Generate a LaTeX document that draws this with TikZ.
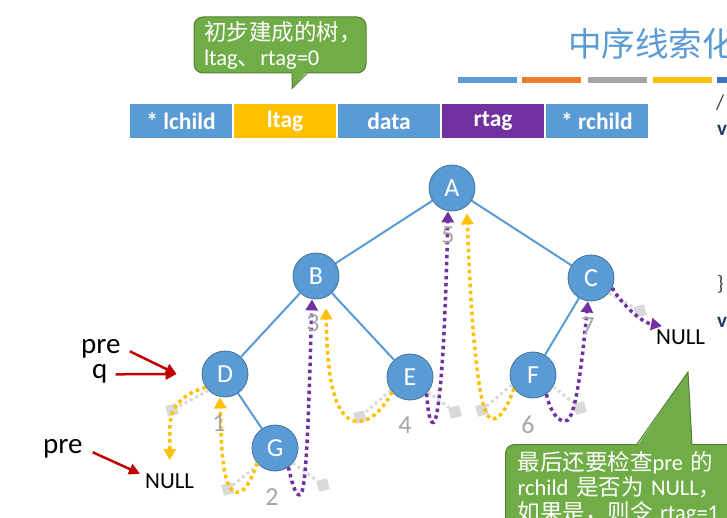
\documentclass[tikz,border=0pt]{standalone}
\usepackage{fontspec}
\setmainfont{Carlito}
\newfontfamily\cjk{Noto Sans CJK SC}
\usetikzlibrary{arrows.meta,positioning}
\definecolor{nodeblue}{HTML}{5B9BD5}
\definecolor{nodeedge}{HTML}{41719C}
\definecolor{tagyellow}{HTML}{FFC000}
\definecolor{tagpurple}{HTML}{7030A0}
\definecolor{barorange}{HTML}{ED7D31}
\definecolor{bargray}{HTML}{A5A5A5}
\definecolor{bardeep}{HTML}{4472C4}
\definecolor{ghostgray}{HTML}{D9D9D9}
\definecolor{numgray}{HTML}{A6A6A6}
\definecolor{bubblegreen}{HTML}{70AD47}
\definecolor{bubbleedge}{HTML}{507E32}
\definecolor{pointred}{HTML}{C00000}
\definecolor{codeblue}{HTML}{1F3864}
\definecolor{codegray}{HTML}{404040}
\tikzset{
  treenode/.style={circle, fill=nodeblue, draw=nodeedge, line width=0.8pt, minimum size=46pt, inner sep=0pt, text=white, font=\fontsize{26}{26}\selectfont},
  treeedge/.style={draw=nodeblue, line width=2pt},
  cell/.style={minimum width=103pt, minimum height=35pt, draw=white, line width=1pt, inner sep=0pt, text=white, font=\bfseries\fontsize{23.5}{23.5}\selectfont},
  lthread/.style={draw=tagyellow, line width=3.5pt, dash pattern=on 3.5pt off 3.5pt, -{Triangle[length=11pt,width=12pt]}},
  rthread/.style={draw=tagpurple, line width=3.5pt, dash pattern=on 3.5pt off 3.5pt, -{Triangle[length=11pt,width=12pt]}},
  ghost/.style={draw=ghostgray, line width=3pt, dash pattern=on 3pt off 3pt},
  ghostbox/.style={fill=ghostgray, minimum size=11pt, inner sep=0pt, rotate=15},
  numlabel/.style={text=numgray, inner sep=0pt, font=\fontsize{26}{26}\selectfont},
  pointer/.style={draw=pointred, line width=2.5pt, -{Triangle[length=11pt,width=11pt]}},
  bubble/.style={fill=bubblegreen, draw=bubbleedge, line width=1pt, rounded corners=9pt, text=white, align=left, font=\fontsize{22.5}{25}\selectfont}
}
\begin{document}
\begin{tikzpicture}[x=1pt,y=-1pt]
\useasboundingbox (0,0) rectangle (727,518);
\clip (0,0) rectangle (727,518);
\fill[white] (0,0) rectangle (727,518);

\node[anchor=west, inner sep=0pt, text=nodeblue, font=\cjk\fontsize{33.5}{33.5}\selectfont] (title) at (568,44) {中序线索化};
\foreach \x/\c in {458/nodeblue,522/barorange,588/bargray,653/tagyellow,717/bardeep}
  \fill[\c] (\x,77) rectangle ++(59,6);
\node[anchor=base west, inner sep=0pt, text=codegray, font=\fontsize{21}{21}\selectfont] (slash) at (716,110) {/};
\node[anchor=base west, inner sep=0pt, text=codeblue, font=\bfseries\fontsize{21}{21}\selectfont] (vfirst) at (717,136) {v};
\node[anchor=base west, inner sep=0pt, text=codegray, font=\fontsize{21}{21}\selectfont] (brace) at (717,290) {\}};
\node[anchor=base west, inner sep=0pt, text=codeblue, font=\bfseries\fontsize{21}{21}\selectfont] (vsecond) at (717,327) {v};

\node[bubble, text width=152pt, inner xsep=10pt, minimum height=56pt] (tipa) at (280,45) {{\cjk 初步建成的树，}\\ltag{\cjk 、}rtag=0};
\fill[bubblegreen] ([shift={(12pt,2pt)}]tipa.south) -- ([shift={(12pt,-15pt)}]tipa.south) -- ([shift={(27pt,2pt)}]tipa.south) -- cycle;
\draw[bubbleedge, line width=1pt] ([xshift=12pt]tipa.south) -- ([shift={(12pt,-15pt)}]tipa.south) -- ([xshift=27pt]tipa.south);

\node[cell, fill=nodeblue] (lchild) at (181,121.5) {* lchild};
\node[cell, fill=tagyellow, right=0pt of lchild] (ltag) {ltag};
\node[cell, fill=nodeblue, right=0pt of ltag] (data) {data};
\node[cell, fill=tagpurple, right=0pt of data] (rtag) {rtag};
\node[cell, fill=nodeblue, right=0pt of rtag] (rchild) {* rchild};

\node[treenode] (A) at (452,188) {A};
\node[treenode] (B) at (316,276) {B};
\node[treenode] (C) at (591,278) {C};
\node[treenode] (D) at (225,374) {D};
\node[treenode] (E) at (410,377) {E};
\node[treenode] (F) at (533,375) {F};
\node[treenode] (G) at (275,448) {G};
\draw[treeedge] (A) -- (B);
\draw[treeedge] (A) -- (C);
\draw[treeedge] (B) -- (D);
\draw[treeedge] (B) -- (E);
\draw[treeedge] (C) -- (F);
\draw[treeedge] (D) -- (G);

\node[anchor=base west, inner sep=0pt, font=\fontsize{23}{23}\selectfont] (nullL) at (145,488) {NULL};
\node[anchor=base west, inner sep=0pt, font=\fontsize{23}{23}\selectfont] (nullR) at (656,344) {NULL};

\node[ghostbox] (g1) at (172,410) {};
\node[ghostbox] (g2) at (228,489) {};
\node[ghostbox] (g3) at (323,485) {};
\node[ghostbox] (g4) at (360,417) {};
\node[ghostbox] (g5) at (455,412) {};
\node[ghostbox] (g6) at (482,410) {};
\node[ghostbox] (g7) at (580,408) {};
\node[ghostbox] (g8) at (640,311) {};
\draw[ghost] (D.225) -- (g1);
\draw[ghost] (G.225) -- (g2);
\draw[ghost] (G.320) -- (g3);
\draw[ghost] (E.215) -- (g4);
\draw[ghost] (E.320) -- (g5);
\draw[ghost] (F.205) -- (g6);
\draw[ghost] (F.330) -- (g7);
\draw[ghost] (C.320) -- (g8);

\draw[lthread] (D.215) .. controls (185,393) and (171,405) .. (170,425) -- ([yshift=13pt]nullL.north);
\draw[lthread] (G.220) .. controls (248,490) and (238,500) .. (229,486) .. controls (221,470) and (221,430) .. ([xshift=-5pt]D.south);
\draw[rthread] (G.305) .. controls (293,488) and (297,498) .. (301,494) .. controls (307,485) and (309,400) .. ([xshift=-4pt]B.south);
\draw[lthread] (E.220) .. controls (380,415) and (362,428) .. (348,418) .. controls (330,405) and (327,360) .. ([shift={(10pt,-9pt)}]B.south);
\draw[rthread] (E.315) .. controls (428,412) and (430,425) .. (434,422) .. controls (442,410) and (446,300) .. ([xshift=-4pt]A.south);
\draw[lthread] (F.215) .. controls (505,415) and (494,425) .. (487,415) .. controls (476,395) and (470,300) .. ([shift={(15pt,-2pt)}]A.south);
\draw[rthread] (F.305) .. controls (550,412) and (560,425) .. (568,420) .. controls (578,410) and (584,340) .. ([xshift=-3pt]C.south);
\draw[rthread] (C.335) .. controls (620,302) and (640,322) .. ([shift={(6pt,3pt)}]nullR.north west);

\node[numlabel] (n1) at (219,423) {1};
\node[numlabel] (n2) at (272,497) {2};
\node[numlabel] (n3) at (313,323) {3};
\node[numlabel] (n4) at (405,425) {4};
\node[numlabel] (n5) at (448,235) {5};
\node[numlabel] (n6) at (528,425) {6};
\node[numlabel] (n7) at (588,326) {7};

\node[anchor=base west, inner sep=0pt, font=\fontsize{29}{29}\selectfont] (preA) at (81,353) {pre};
\node[anchor=base west, inner sep=0pt, font=\fontsize{29}{29}\selectfont] (q) at (92,378) {q};
\node[anchor=base west, inner sep=0pt, font=\fontsize{29}{29}\selectfont] (preB) at (43,453) {pre};
\draw[pointer] ([shift={(9pt,-3pt)}]preA.east) -- ([xshift=-25pt]D.west);
\draw[pointer] ([shift={(8pt,-1pt)}]q.east) -- ([xshift=-25pt]D.west);
\draw[pointer] ([shift={(10pt,-4pt)}]preB.east) -- ([shift={(-5pt,7pt)}]nullL.west);

\node[bubble, anchor=north west, text width=212pt, inner xsep=12pt, inner ysep=7pt] (tipb) at (505,444) {{\cjk 最后还要检查}pre {\cjk 的}\\rchild {\cjk 是否为} NULL{\cjk ，}\\{\cjk 如果是，则令} rtag=1};
\fill[bubblegreen] (637,446) -- (688,372) -- (692,446) -- cycle;
\draw[bubbleedge, line width=1pt] (637,444) -- (688,372) -- (692,444);
\end{tikzpicture}
\end{document}
